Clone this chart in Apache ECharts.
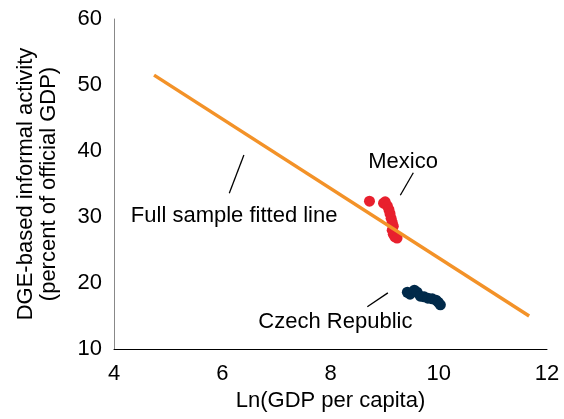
<!DOCTYPE html>
<html>
<head>
<meta charset="utf-8">
<script src="https://cdn.jsdelivr.net/npm/echarts@6/dist/echarts.min.js"></script>
<style>
  html, body { margin: 0; padding: 0; background: #fff; }
  #chart { width: 564px; height: 419px; }
</style>
</head>
<body>
<div id="chart"></div>
<script>
// 拟合线端点
var fitLine = [[4.74, 51.5], [11.67, 15.0]];
// 墨西哥
var mexico = [[8.72, 32.4], [8.98, 32.1], [9.01, 32.3], [9.05, 31.7],
              [9.08, 31.1], [9.10, 30.5], [9.12, 29.8], [9.14, 29.2], [9.16, 28.6],
              [9.14, 28.0], [9.16, 27.4], [9.19, 27.0], [9.23, 26.8]];
// 捷克
var czech = [[9.42, 18.6], [9.47, 18.3], [9.55, 18.9], [9.60, 18.6], [9.66, 18.0],
             [9.73, 17.9], [9.80, 17.7], [9.88, 17.6], [9.95, 17.4], [9.99, 17.1],
             [10.03, 16.7]];
// 标注文字和引线
var notes = [
  { name: 'Mexico', pos: [9.34, 38.3], line: [[9.53, 36.7], [9.29, 33.3]] },
  { name: 'Full sample fitted line', pos: [6.22, 30.2], line: [[6.40, 39.4], [6.13, 33.6]] },
  { name: 'Czech Republic', pos: [8.09, 14.1], line: [[9.06, 18.5], [8.68, 16.4]] }
];
var xTicks = [4, 12, 2];   // min, max, interval
var yTicks = [10, 60, 10];

var font = 'Liberation Sans, Arial, sans-serif';
var fs = 22;
var chart = echarts.init(document.getElementById('chart'));

var series = [];
notes.forEach(function (n) {
  series.push({
    type: 'line', data: n.line, symbol: 'none', silent: true,
    lineStyle: { color: '#000', width: 1.3 }, z: 1
  });
});
series.push({
  type: 'scatter', data: mexico, symbolSize: 11,
  itemStyle: { color: '#e8202e', opacity: 1 }, z: 2
});
series.push({
  type: 'scatter', data: czech, symbolSize: 11,
  itemStyle: { color: '#012a4a', opacity: 1 }, z: 2
});
series.push({
  type: 'line', data: fitLine, symbol: 'none',
  lineStyle: { color: '#f39228', width: 3.5 }, z: 3
});
series.push({
  type: 'scatter', symbolSize: 0, z: 4,
  itemStyle: { opacity: 1 },
  data: notes.map(function (n) { return { value: n.pos, name: n.name }; }),
  label: {
    show: true, position: 'inside', formatter: '{b}',
    color: '#000', fontSize: fs, fontFamily: font
  }
});

chart.setOption({
  animation: false,
  grid: { left: 114, right: 17, top: 19, bottom: 70 },
  xAxis: {
    type: 'value', min: xTicks[0], max: xTicks[1], interval: xTicks[2],
    name: 'Ln(GDP per capita)', nameLocation: 'middle', nameGap: 40,
    nameTextStyle: { color: '#000', fontSize: fs, fontFamily: font },
    axisLine: { lineStyle: { color: '#000', width: 1 } },
    axisTick: { show: false },
    splitLine: { show: false },
    axisLabel: { color: '#000', fontSize: fs, fontFamily: font, margin: 14 }
  },
  yAxis: {
    type: 'value', min: yTicks[0], max: yTicks[1], interval: yTicks[2],
    name: 'DGE-based informal activity\n(percent of official GDP)',
    nameLocation: 'middle', nameGap: 54,
    nameTextStyle: { color: '#000', fontSize: fs, fontFamily: font, lineHeight: 23 },
    axisLine: { show: true, lineStyle: { color: '#888', width: 1 } },
    axisTick: { show: false },
    splitLine: { show: false },
    axisLabel: { color: '#000', fontSize: fs, fontFamily: font, margin: 12 }
  },
  series: series
});
</script>
</body>
</html>
